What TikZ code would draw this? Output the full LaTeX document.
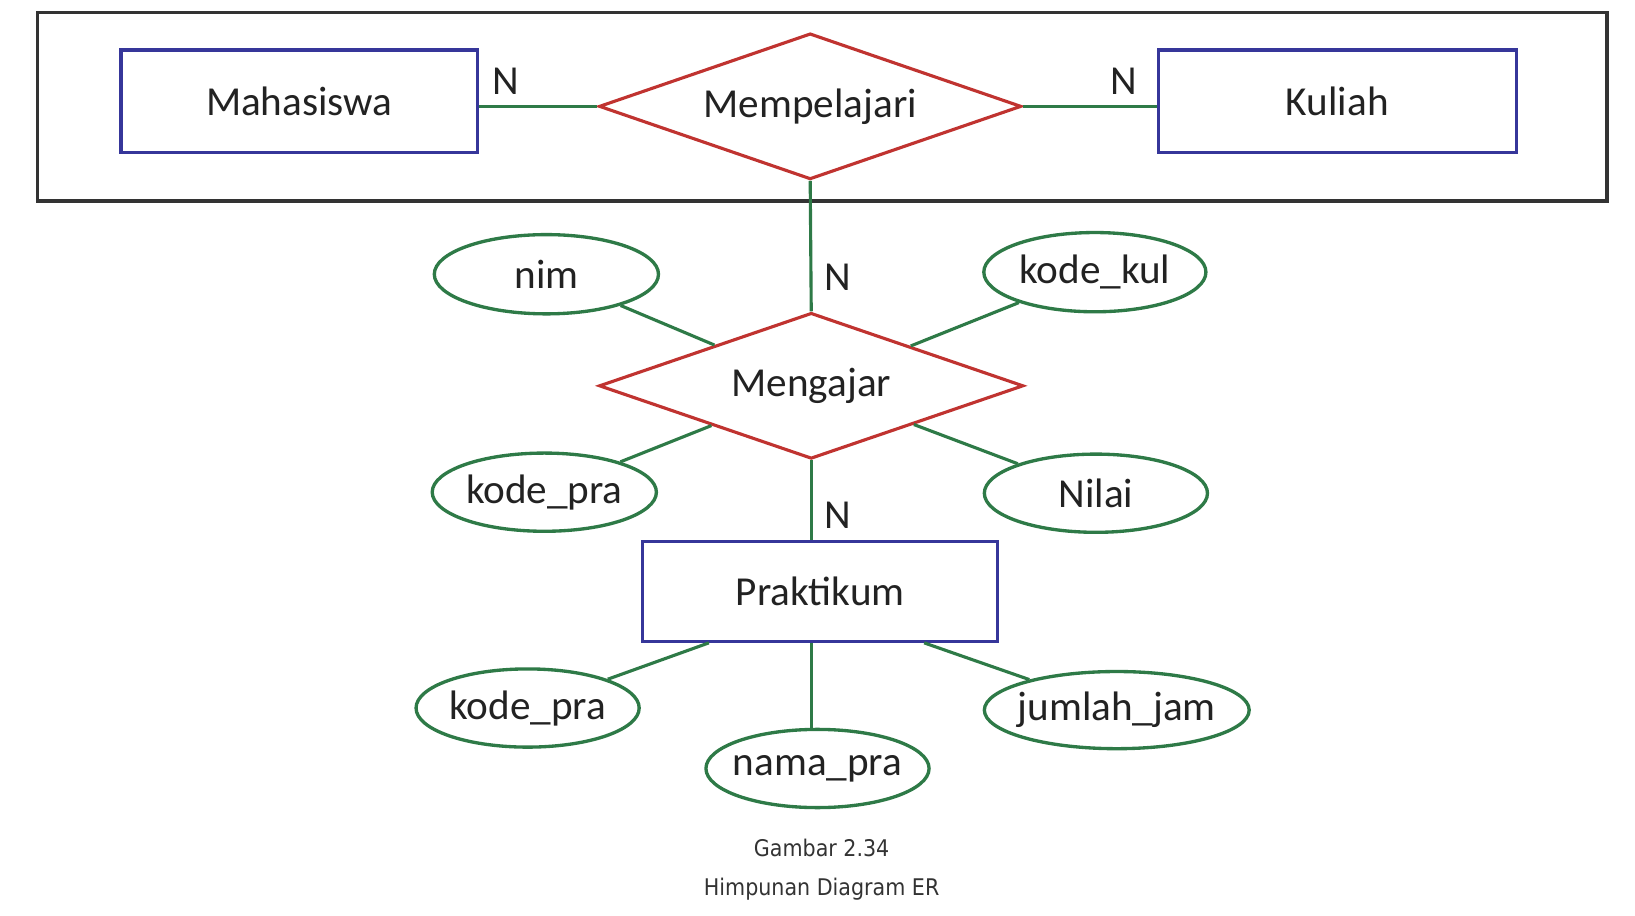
\documentclass[tikz,border=0pt]{standalone}
\usepackage{fontspec}
\setmainfont{Carlito}
\newfontfamily\capfont{DejaVu Sans Condensed}
\usetikzlibrary{shapes.geometric,calc}
\definecolor{entblue}{HTML}{36369A}
\definecolor{relred}{HTML}{C03330}
\definecolor{attgreen}{HTML}{2E7A47}
\definecolor{txt}{HTML}{222222}
\definecolor{frm}{HTML}{333333}
\tikzset{
  lbl/.style={font=\fontsize{39.5}{42}\selectfont, text=txt},
  ent/.style={lbl, draw=entblue, line width=3pt, rectangle, inner sep=0pt},
  rel/.style={lbl, draw=relred, line width=3pt, diamond, aspect=2.9, inner sep=0pt},
  att/.style={lbl, draw=attgreen, line width=3.2pt, ellipse, inner xsep=-8pt, inner ysep=0pt},
  lnk/.style={draw=attgreen, line width=3pt},
  card/.style={lbl, inner sep=0pt},
  frame/.style={draw=frm, line width=3.5pt, rectangle, inner sep=0pt},
  capt/.style={font=\capfont\fontsize{22}{26}\selectfont, text=frm, inner sep=0pt}
}
\begin{document}
\begin{tikzpicture}[x=1pt,y=-1pt]
\useasboundingbox (0,0) rectangle (1568,878);
% aggregation frame
\node[frame, minimum width=1505pt, minimum height=181pt] (frm) at (788.5,102.5) {};
% entities
\node[ent, minimum width=342pt, minimum height=98pt] (mhs) at (287,97) {Mahasiswa};
\node[ent, minimum width=343pt, minimum height=98pt] (kul) at (1282.5,97) {Kuliah};
\node[ent, minimum width=341pt, minimum height=96pt] (prak) at (786.5,567) {Praktikum};
% relationships
\node[rel, minimum width=405pt, minimum height=140pt] (mpl) at (777,102) {Mempelajari};
\node[rel, minimum width=407pt, minimum height=140pt] (mgj) at (778,370) {Mengajar};
% attributes
\node[att, minimum width=215pt, minimum height=76pt] (nim) at (524,263) {nim};
\node[att, minimum width=213pt, minimum height=76pt] (kkul) at (1050,261) {kode\_kul};
\node[att, minimum width=215pt, minimum height=75pt] (kpra1) at (522,472) {kode\_pra};
\node[att, minimum width=214pt, minimum height=75pt] (nilai) at (1051,473) {Nilai};
\node[att, minimum width=214pt, minimum height=75pt] (kpra2) at (506,679) {kode\_pra};
\node[att, minimum width=214pt, minimum height=75pt] (npra) at (784,737) {nama\_pra};
\node[att, minimum width=254pt, minimum height=74pt] (jj) at (1071,681) {jumlah\_jam};
% cardinalities
\node[card] (n1) at (485,78) {N};
\node[card] (n2) at (1078,78) {N};
\node[card] (n3) at (803,266) {N};
\node[card] (n4) at (803,494) {N};
% connectors
\draw[lnk] (mpl.west) -- (mpl.west -| mhs.east);
\draw[lnk] (mpl.east) -- (mpl.east -| kul.west);
\draw[lnk] (mpl.south) -- (mgj.north);
\draw[lnk] (mgj.south) -- (mgj.south |- prak.north);
\draw[lnk] (nim) -- (mgj);
\draw[lnk] (kkul) -- (mgj);
\draw[lnk] (kpra1) -- (mgj);
\draw[lnk] (nilai) -- (mgj);
\coordinate (p1) at ($(prak.south west)!0.19!(prak.south east)$);
\coordinate (p2) at ($(prak.south west)!0.475!(prak.south east)$);
\coordinate (p3) at ($(prak.south west)!0.79!(prak.south east)$);
\draw[lnk] (p1) -- (kpra2);
\draw[lnk] (p2) -- (p2 |- npra.north);
\draw[lnk] (p3) -- (jj);
% caption
\node[capt] (c1) at (788,813) {Gambar 2.34};
\node[capt] (c2) at (788,853) {Himpunan Diagram ER};
\end{tikzpicture}
\end{document}
